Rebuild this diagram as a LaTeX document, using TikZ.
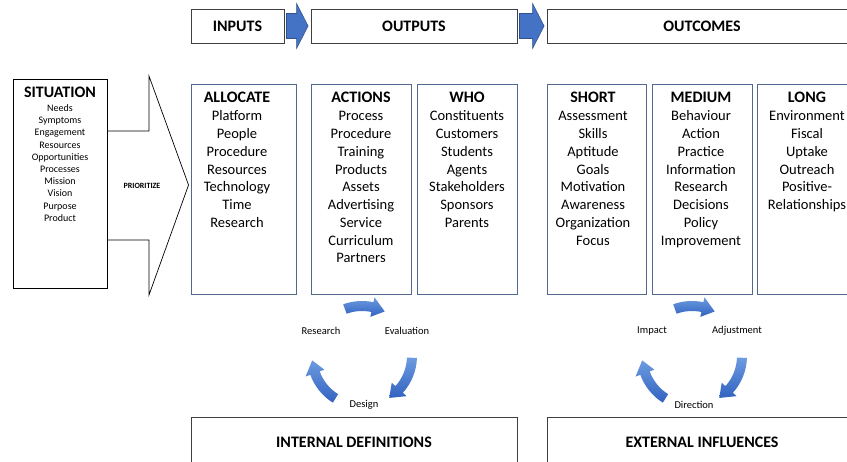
\documentclass[tikz,border=0pt]{standalone}
\usepackage{fontspec}
\setmainfont{Carlito}
\usetikzlibrary{positioning,calc}

\definecolor{colline}{HTML}{52698F}
\definecolor{hdline}{HTML}{3F3F3F}
\definecolor{arrfill}{HTML}{4472C4}
\definecolor{arrline}{HTML}{2F528F}
\definecolor{cyctop}{HTML}{6C9BE0}
\definecolor{cycbot}{HTML}{3262C0}

\tikzstyle{hdbox}=[draw=hdline,line width=0.9pt,minimum height=34pt,inner sep=0pt,font=\fontsize{16}{18}\selectfont\bfseries]
\tikzstyle{sitbox}=[draw=black,line width=0.9pt,minimum width=94pt,minimum height=209pt,inner sep=0pt]
\tikzstyle{colbox}=[draw=colline,line width=0.9pt,minimum height=210pt,inner sep=0pt]
\tikzstyle{botbox}=[draw=hdline,line width=0.9pt,minimum height=50pt,inner sep=0pt,font=\fontsize{16}{18}\selectfont\bfseries]
\tikzstyle{coltext}=[align=center,anchor=north,inner sep=0pt,font=\fontsize{14.5}{17.75}\selectfont]
\tikzstyle{sittext}=[align=center,anchor=north,inner sep=0pt,font=\fontsize{10}{12.2}\selectfont]
\tikzstyle{priotext}=[inner sep=0pt,font=\fontsize{8}{10}\selectfont\bfseries]
\tikzstyle{cyclabel}=[inner sep=0pt,font=\fontsize{10.5}{12}\selectfont]
\tikzstyle{blockarrow}=[fill=arrfill,draw=arrline,line width=0.6pt,line join=miter]
\tikzstyle{prioarrow}=[fill=white,draw=black,line width=0.7pt,line join=miter]
\tikzstyle{cycarrow}=[top color=cyctop,bottom color=cycbot,draw=none]

\newcommand{\coltitle}[1]{{\fontsize{16}{17.75}\selectfont\bfseries #1}}

% blue arrow between two header boxes
\newcommand{\hdarrow}[2]{%
  \draw[blockarrow] ($(#1.east)+(2,12.5)$) -- ($(#2.west)+(-14,12.5)$)
    -- ($(#2.west)+(-14,22.5)$) -- ($(#2.west)+(-2.5,0)$)
    -- ($(#2.west)+(-14,-22.5)$) -- ($(#2.west)+(-14,-12.5)$)
    -- ($(#1.east)+(2,-12.5)$) -- cycle;}

% curved arrow of a cycle: centre, start angle, end angle (clockwise)
\newcommand{\cycarrow}[3]{%
  \begin{scope}[shift={(#1)}]
    \shade[cycarrow] (#2:55) arc[start angle=#2,end angle={#3+15},radius=55]
      -- ({#3+15}:60) -- (#3:50) -- ({#3+15}:40) -- ({#3+15}:45)
      arc[start angle={#3+15},end angle=#2,radius=45] -- cycle;
  \end{scope}}

\begin{document}
\begin{tikzpicture}[x=1pt,y=1pt]
  \useasboundingbox (0,0) rectangle (847,-462);
  \clip (0,0) rectangle (847,-462);

  % headers
  \node (inputs)[hdbox,minimum width=93pt] at (237.5,-26) {INPUTS};
  \node (outputs)[hdbox,minimum width=206pt] at (414,-26) {OUTPUTS};
  \node (outcomes)[hdbox,minimum width=310pt] at (702,-26) {OUTCOMES};
  \hdarrow{inputs}{outputs}
  \hdarrow{outputs}{outcomes}

  % situation
  \node (sit)[sitbox] at (60,-183.5) {};
  \node (sitT)[sittext] at (60,-86.8) {\coltitle{SITUATION}\\[1.9pt]Needs\\Symptoms\\Engagement\\Resources\\Opportunities\\Processes\\Mission\\Vision\\Purpose\\Product};

  % columns
  \node (alloc)[colbox,minimum width=105pt] at (243.5,-189) {};
  \node (actions)[colbox,minimum width=100pt] at (361,-189) {};
  \node (who)[colbox,minimum width=100pt] at (467,-189) {};
  \node (short)[colbox,minimum width=99pt] at (596.5,-189) {};
  \node (medium)[colbox,minimum width=100pt] at (702,-189) {};
  \node (long)[colbox,minimum width=100pt] at (807,-189) {};

  \node (allocT)[coltext] at (237,-91.5) {\coltitle{ALLOCATE}\\[1pt]Platform\\People\\Procedure\\Resources\\Technology\\Time\\Research};
  \node (actionsT)[coltext] at (361,-91.5) {\coltitle{ACTIONS}\\[1pt]Process\\Procedure\\Training\\Products\\Assets\\Advertising\\Service\\Curriculum\\Partners};
  \node (whoT)[coltext] at (467,-91.5) {\coltitle{WHO}\\[1pt]Constituents\\Customers\\Students\\Agents\\Stakeholders\\Sponsors\\Parents};
  \node (shortT)[coltext] at (593,-91.5) {\coltitle{SHORT}\\[1pt]Assessment\\Skills\\Aptitude\\Goals\\Motivation\\Awareness\\Organization\\Focus};
  \node (mediumT)[coltext] at (701,-91.5) {\coltitle{MEDIUM}\\[1pt]Behaviour\\Action\\Practice\\Information\\Research\\Decisions\\Policy\\Improvement};
  \node (longT)[coltext] at (807,-91.5) {\coltitle{LONG}\\[1pt]Environment\\Fiscal\\Uptake\\Outreach\\Positive-\\Relationships};

  % prioritize arrow
  \coordinate (prtip) at ($(alloc.west)+(-2,4)$);
  \draw[prioarrow] (sit.east |- 0,-131) -- (149,-131) -- (149,-76) -- (prtip)
    -- (149,-295) -- (149,-240) -- (sit.east |- 0,-240) -- cycle;
  \node (prio)[priotext] at (142,-186) {PRIORITIZE};

  % cycles
  \coordinate (c1) at (362,-356);
  \coordinate (c2) at (692,-356);
  \foreach \c in {c1,c2}{
    \cycarrow{\c}{110}{63}
    \cycarrow{\c}{-2}{-57}
    \cycarrow{\c}{238}{185}
  }
  \node (research)[cyclabel] at ($(c1)+(-41,25)$) {Research};
  \node (evaluation)[cyclabel] at ($(c1)+(45,25)$) {Evaluation};
  \node (design)[cyclabel] at ($(c1)+(2,-49)$) {Design};
  \node (impact)[cyclabel] at ($(c2)+(-40,25)$) {Impact};
  \node (adjust)[cyclabel] at ($(c2)+(45,25)$) {Adjustment};
  \node (direction)[cyclabel] at ($(c2)+(2,-49)$) {Direction};

  % bottom
  \node (internal)[botbox,minimum width=326pt] at (354,-442) {INTERNAL DEFINITIONS};
  \node (external)[botbox,minimum width=310pt] at (702,-442) {EXTERNAL INFLUENCES};
\end{tikzpicture}
\end{document}
